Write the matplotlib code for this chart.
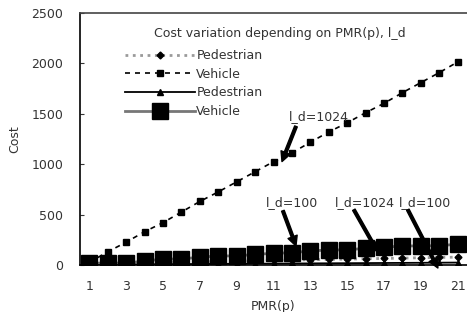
import matplotlib
matplotlib.use("Agg")
import matplotlib.pyplot as plt

pmr = list(range(1, 22))
ped_1024 = [12, 15, 18, 22, 25, 28, 32, 35, 38, 42, 45, 48, 52, 55, 58, 62, 65, 68, 72, 75, 78]
veh_1024 = [25, 130, 226, 330, 420, 525, 630, 725, 825, 925, 1025, 1112, 1218, 1320, 1411,
            1511, 1604, 1710, 1810, 1909, 2015]
ped_100 = [4, 5, 6, 7, 8, 9, 10, 11, 12, 13, 14, 15, 16, 17, 18, 19, 20, 21, 22, 23, 24]
veh_100 = [17, 20, 18, 40, 58, 60, 77, 90, 90, 105, 116, 122, 139, 149, 150, 166, 176,
           189, 189, 192, 206]
xticks = list(range(1, 22, 2))
yticks = [0, 500, 1000, 1500, 2000, 2500]
legend_title = "Cost variation depending on PMR(p), l_d"

plt.rcParams["font.family"] = "DejaVu Sans"
fig = plt.figure(figsize=(4.67, 3.12), dpi=100)
ax = fig.add_axes([80 / 467, 1 - 265 / 312, 1 - 80 / 467, (265 - 13) / 312])

ax.plot(pmr, ped_1024, color="#9a9a9a", ls=":", lw=2, marker="D", ms=3.5,
        mfc="black", mec="black", label="Pedestrian")
ax.plot(pmr, veh_1024, color="black", ls=(0, (3, 3)), lw=1.2, marker="s", ms=5,
        mfc="black", mec="black", label="Vehicle")
ax.plot(pmr, ped_100, color="black", ls="-", lw=1.3, marker="^", ms=5,
        mfc="black", mec="black", label="Pedestrian")
ax.plot(pmr, veh_100, color="#777777", ls="-", lw=2, marker="s", ms=11,
        mfc="black", mec="black", label="Vehicle")

ax.set_xlim(0.5, 21.5)
ax.set_ylim(0, 2500)
ax.set_xticks(xticks)
ax.set_yticks(yticks)
ax.tick_params(axis="both", labelsize=9, colors="#333333", length=3, direction="in")
ax.tick_params(axis="x", length=0, pad=11)
ax.tick_params(axis="y", pad=12)
ax.spines["right"].set_visible(False)
for s in ["left", "bottom", "top"]:
    ax.spines[s].set_linewidth(1.2)
ax.spines["top"].set_color("#444444")
ax.set_xlabel("PMR(p)", fontsize=9, color="#333333", labelpad=5)
ax.set_ylabel("Cost", fontsize=9, color="#333333", labelpad=7)

fig.text(280 / 467, 1 - 33 / 312, legend_title, fontsize=9, color="#333333",
         ha="center", va="center")
leg = ax.legend(loc="upper left", bbox_to_anchor=(125 / 467, 1 - 49 / 312),
                bbox_transform=fig.transFigure, frameon=False, fontsize=9,
                handlelength=5.6, handletextpad=0.1, labelspacing=0.45,
                borderpad=0, borderaxespad=0)
for t in leg.get_texts():
    t.set_color("#333333")

arrow = dict(facecolor="black", edgecolor="black", width=2, headwidth=7,
             headlength=7, shrink=0)
notes = [
    ("l_d=1024", (13.47, 1474), (12.22, 1375), (11.46, 1026)),
    ("l_d=100", (12.0, 617), (11.51, 538), (12.22, 189)),
    ("l_d=1024", (15.96, 617), (15.36, 548), (16.66, 129)),
    ("l_d=100", (19.21, 617), (18.29, 548), (19.92, -30)),
]
for label, txt, tail, tip in notes:
    ax.text(txt[0], txt[1], label, fontsize=9, color="#333333", ha="center", va="center")
    ax.annotate("", xy=tip, xytext=tail, arrowprops=arrow, annotation_clip=False)

fig.savefig("out.png", dpi=100)
